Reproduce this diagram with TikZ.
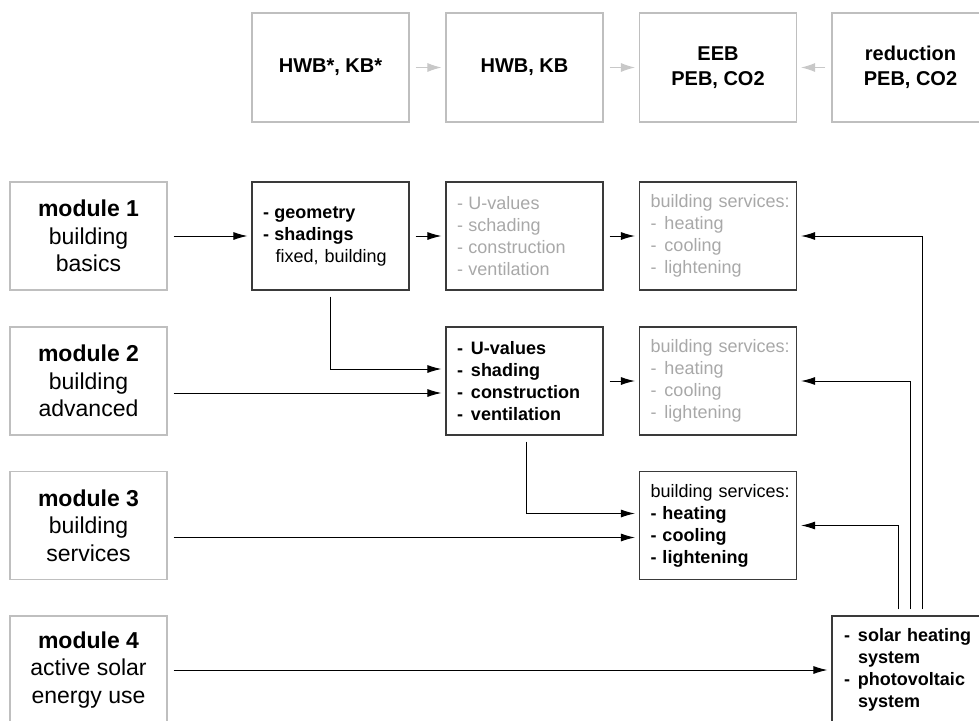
\documentclass[tikz,border=0pt]{standalone}
\usepackage{fontspec}
\setmainfont{Liberation Sans}
\usetikzlibrary{arrows.meta,calc}
\definecolor{lgray}{HTML}{BFBFBF}
\definecolor{tgray}{HTML}{A8A8A8}
\definecolor{agray}{HTML}{C8C8C8}
\definecolor{dgray}{HTML}{3A3A3A}
\newcommand\mydash[1]{\makebox[#1][l]{-}}
\begin{document}
\begin{tikzpicture}[x=1pt,y=-1pt,
  topbox/.style={draw=lgray, line width=1.1pt, minimum width=157pt, minimum height=109pt, align=center, font=\fontsize{20}{25}\selectfont\bfseries, inner sep=0pt},
  modbox/.style={draw=lgray, line width=1.1pt, minimum width=157pt, minimum height=108pt, align=center, font=\fontsize{23}{27.5}\selectfont, inner sep=0pt},
  inbox/.style={draw=dgray, line width=1.1pt, minimum height=108pt, text width=135pt, inner xsep=11pt, inner ysep=0pt, align=left, font=\fontsize{18}{22}\selectfont},
  arr/.style={-{Latex[length=14pt,width=8pt]}, line width=1pt, black, shorten <=6pt, shorten >=4pt},
  garr/.style={-{Latex[length=14pt,width=9pt]}, line width=1pt, agray, shorten <=6pt, shorten >=4pt}
]
\useasboundingbox (0,0) rectangle (979,720);
\clip (0,0) rectangle (979,720);

% top row
\node[topbox] (t1) at (330.5,67.5) {HWB*, KB*};
\node[topbox] (t2) at (524.5,67.5) {HWB, KB};
\node[topbox] (t3) at (718,67.5) {EEB\\PEB, CO2};
\node[topbox] (t4) at (910.5,67.5) {reduction\\PEB, CO2};
\draw[garr] (t1) -- (t2);
\draw[garr] (t2) -- (t3);
\draw[garr] (t4) -- (t3);

% modules
\node[modbox] (m1) at (88.5,236) {\textbf{module 1}\\building\\basics};
\node[modbox] (m2) at (88.5,381) {\textbf{module 2}\\building\\advanced};
\node[modbox] (m3) at (88.5,525.5) {\textbf{module 3}\\building\\services};
\node[modbox] (m4) at (88.5,670) {\textbf{module 4}\\active solar\\energy use};

% row 1
\node[inbox] (geo) at (330.5,236) {\textbf{\mydash{11.5pt}geometry}\\\textbf{\mydash{11.5pt}shadings}\\\hspace*{12.5pt}fixed, building};
\node[inbox, text=tgray] (ug) at (524.5,236) {\mydash{11.5pt}U-values\\\mydash{11.5pt}schading\\\mydash{11.5pt}construction\\\mydash{11.5pt}ventilation};
\node[inbox, text=tgray] (bs1) at (718,236) {\mbox{building services:}\\\mydash{14pt}heating\\\mydash{14pt}cooling\\\mydash{14pt}lightening};

% row 2
\node[inbox, font=\fontsize{18}{22}\selectfont\bfseries] (ub) at (524.5,381) {\mydash{14pt}U-values\\\mydash{14pt}shading\\\mydash{14pt}construction\\\mydash{14pt}ventilation};
\node[inbox, text=tgray] (bs2) at (718,381) {\mbox{building services:}\\\mydash{14pt}heating\\\mydash{14pt}cooling\\\mydash{14pt}lightening};

% row 3
\node[inbox] (bs3) at (718,525.5) {\mbox{building services:}\\\textbf{\mydash{12pt}heating}\\\textbf{\mydash{12pt}cooling}\\\textbf{\mydash{12pt}lightening}};

% row 4
\node[inbox, inner xsep=12pt, text width=133pt, font=\fontsize{18}{22}\selectfont\bfseries] (sol) at (910.5,670) {\mydash{14pt}solar heating\\\hspace*{14pt}system\\\mydash{14pt}photovoltaic\\\hspace*{14pt}system};

% connectors
\draw[arr] (m1) -- (geo);
\draw[arr] (geo) -- (ug);
\draw[arr] (ug) -- (bs1);
\draw[arr] ([xshift=12pt]sol.north) |- (bs1.east);

\draw[arr] (geo.south) |- ([yshift=12pt]ub.west);
\draw[arr] ([yshift=-12pt]m2.east) -- ([yshift=-12pt]ub.west);
\draw[arr] (ub) -- (bs2);
\draw[arr] (sol.north) |- (bs2.east);

\draw[arr] ([xshift=2pt]ub.south) |- ([yshift=12pt]bs3.west);
\draw[arr] ([yshift=-12pt]m3.east) -- ([yshift=-12pt]bs3.west);
\draw[arr] ([xshift=-12pt]sol.north) |- (bs3.east);

\draw[arr] (m4) -- (sol);
\end{tikzpicture}
\end{document}
